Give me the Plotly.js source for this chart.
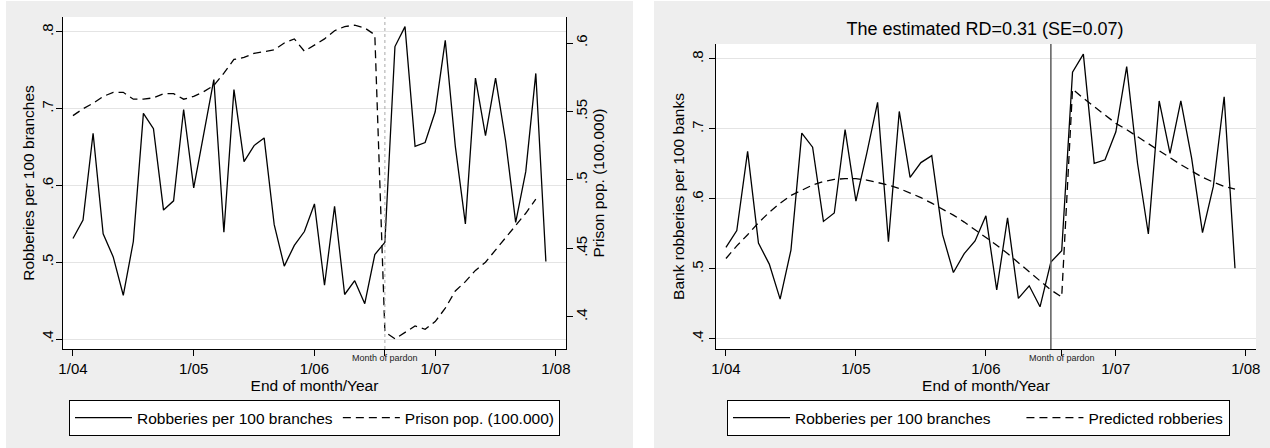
<!DOCTYPE html>
<html>
<head>
<meta charset="utf-8">
<script src="https://cdn.plot.ly/plotly-3.0.1.min.js"></script>
<style>html,body{margin:0;padding:0;background:#fff;}#chart{width:1270px;height:448px;}</style>
</head>
<body>
<div id="chart"></div>
<script>
// Month index: 0 = Jan 2004 ... 47 = Dec 2007
const months = Array.from({length: 48}, (_, i) => i);
const tickVals = [0, 12, 24, 36, 48];
const tickText = ['1/04', '1/05', '1/06', '1/07', '1/08'];
const pardonMonth = 31;      // "Month of pardon" tick
const cutoffMonth = 30;      // RD cutoff line (right panel)

const robberies = [0.531,0.555,0.668,0.537,0.507,0.457,0.527,0.694,0.674,0.568,0.580,0.699,
                   0.597,0.665,0.738,0.539,0.725,0.631,0.652,0.662,0.549,0.495,0.522,0.540,
                   0.576,0.470,0.573,0.458,0.476,0.446,0.510,0.526,0.781,0.807,0.651,0.656,
                   0.696,0.789,0.651,0.550,0.740,0.665,0.740,0.658,0.552,0.618,0.746,0.501];

const prisonMonths = Array.from({length: 47}, (_, i) => i);
const prisonPop = [0.547,0.552,0.556,0.561,0.564,0.564,0.559,0.559,0.560,0.563,0.563,0.559,
                   0.561,0.5645,0.569,0.578,0.588,0.5895,0.5925,0.594,0.595,0.600,0.603,0.594,
                   0.5985,0.603,0.609,0.612,0.613,0.611,0.606,0.389,0.384,0.389,0.3934,0.391,
                   0.3966,0.4064,0.419,0.4258,0.434,0.440,0.449,0.4575,0.467,0.4757,0.486];

const predicted = [0.515,0.533,0.549,0.566,0.581,0.594,0.605,0.613,0.620,0.625,0.628,0.629,
                   0.629,0.627,0.624,0.620,0.615,0.609,0.602,0.594,0.586,0.577,0.567,0.556,
                   0.546,0.534,0.522,0.509,0.497,0.484,0.470,0.460,0.757,0.744,0.732,0.719,
                   0.708,0.699,0.689,0.678,0.668,0.658,0.649,0.640,0.631,0.624,0.618,0.614];

const leftTicks = [0.4, 0.5, 0.6, 0.7, 0.8];
const leftTickText = ['.4', '.5', '.6', '.7', '.8'];
const prisonTicks = [0.4, 0.45, 0.5, 0.55, 0.6];
const prisonTickText = ['.4', '.45', '.5', '.55', '.6'];

const FONT = 'Liberation Sans, Arial, Helvetica, sans-serif';
const DASH = '8px,5px';
const PAD = '\u00a0\u00a0\u00a0\u00a0\u00a0\u00a0';

const traces = [
  {x: months, y: robberies, xaxis: 'x', yaxis: 'y', type: 'scatter', mode: 'lines',
   name: 'Robberies per 100 branches', line: {color: '#000', width: 1.3}, legend: 'legend'},
  {x: prisonMonths, y: prisonPop, xaxis: 'x', yaxis: 'y2', type: 'scatter', mode: 'lines',
   name: 'Prison pop. (100.000)', line: {color: '#000', width: 1.3, dash: DASH}, legend: 'legend'},
  {x: months, y: robberies, xaxis: 'x2', yaxis: 'y3', type: 'scatter', mode: 'lines',
   name: 'Robberies per 100 branches' + PAD, line: {color: '#000', width: 1.3}, legend: 'legend2'},
  {x: months, y: predicted, xaxis: 'x2', yaxis: 'y3', type: 'scatter', mode: 'lines',
   name: 'Predicted robberies', line: {color: '#000', width: 1.3, dash: DASH}, legend: 'legend2'}
];

// plot area (margins) : x 63..1256, y 17..349
const W = 1270, H = 448, ML = 63, MR = 14, MT = 17, MB = 99;
const PW = W - ML - MR, PH = H - MT - MB;
const px = v => (v - ML) / PW;
const py = v => (H - MB - v) / PH;

const xCommon = {
  tickmode: 'array', tickvals: tickVals.concat([pardonMonth]), ticktext: tickText.concat(['']),
  ticks: 'outside', ticklen: 6, tickcolor: '#000', tickwidth: 1,
  showline: true, linecolor: '#000', linewidth: 1, showgrid: false, zeroline: false,
  tickfont: {family: FONT, size: 15, color: '#000'},
  title: {text: 'End of month/Year', font: {family: FONT, size: 15.5, color: '#000'}, standoff: 0}
};
const yCommon = {
  tickmode: 'array', tickvals: leftTicks, ticktext: leftTickText, tickangle: -90,
  ticks: 'outside', ticklen: 6, tickcolor: '#000', tickwidth: 1,
  showline: true, linecolor: '#000', linewidth: 1, zeroline: false,
  showgrid: true, gridcolor: '#e4e4e4', gridwidth: 1,
  tickfont: {family: FONT, size: 15, color: '#000'}
};
const legendCommon = {
  orientation: 'h', xanchor: 'left', yanchor: 'top', y: py(400),
  bgcolor: '#fff', bordercolor: '#000', borderwidth: 1, itemwidth: 57,
  font: {family: FONT, size: 15.5, color: '#000'}
};

const layout = {
  width: W, height: H,
  margin: {l: ML, r: MR, t: MT, b: MB},
  paper_bgcolor: '#ffffff', plot_bgcolor: '#ffffff',
  font: {family: FONT, color: '#000'},
  title: {text: 'The estimated RD=0.31 (SE=0.07)', x: 985 / W, xanchor: 'center', xref: 'container',
          y: 1 - 29 / H, yanchor: 'middle', yref: 'container', font: {family: FONT, size: 18, color: '#000'}},
  xaxis: Object.assign({}, xCommon, {domain: [0, px(566)], range: [-0.99, 49.0], anchor: 'y'}),
  yaxis: Object.assign({}, yCommon, {domain: [0, 1], range: [0.387, 0.8195], anchor: 'x',
          ticklabelstandoff: -3,
          title: {text: 'Robberies per 100 branches', standoff: 0,
                  font: {family: FONT, size: 15.5, color: '#000'}}}),
  yaxis2: {overlaying: 'y', side: 'right', anchor: 'x', range: [0.3766, 0.619],
          tickmode: 'array', tickvals: prisonTicks, ticktext: prisonTickText, tickangle: -90,
          ticks: 'outside', ticklen: 6, tickcolor: '#000', tickwidth: 1, ticklabelstandoff: -4,
          showline: true, linecolor: '#000', linewidth: 1, zeroline: false, showgrid: false,
          tickfont: {family: FONT, size: 15, color: '#000'},
          title: {text: 'Prison pop. (100.000)', standoff: 3,
                  font: {family: FONT, size: 15.5, color: '#000'}}},
  xaxis2: Object.assign({}, xCommon, {domain: [px(716), 1], range: [-0.92, 48.94], anchor: 'y3'}),
  yaxis3: Object.assign({}, yCommon, {domain: [0, py(44)], range: [0.3857, 0.8214], anchor: 'x2',
          title: {text: 'Bank robberies per 100 banks', standoff: 0,
                  font: {family: FONT, size: 15.5, color: '#000'}}}),
  showlegend: true,
  legend: Object.assign({}, legendCommon, {x: px(69)}),
  legend2: Object.assign({}, legendCommon, {x: px(727)}),
  shapes: [
    {type: 'rect', xref: 'paper', yref: 'paper', x0: px(6), x1: px(633), y0: py(448), y1: py(1),
     fillcolor: '#eeeeee', line: {width: 0}, layer: 'below'},
    {type: 'rect', xref: 'paper', yref: 'paper', x0: px(654), x1: px(1270), y0: py(448), y1: py(1),
     fillcolor: '#eeeeee', line: {width: 0}, layer: 'below'},
    {type: 'rect', xref: 'x domain', yref: 'y domain', x0: 0, x1: 1, y0: 0, y1: 1,
     fillcolor: '#ffffff', line: {width: 0}, layer: 'below'},
    {type: 'rect', xref: 'x2 domain', yref: 'y3 domain', x0: 0, x1: 1, y0: 0, y1: 1,
     fillcolor: '#ffffff', line: {width: 0}, layer: 'below'},
    {type: 'line', xref: 'x', yref: 'y domain', x0: pardonMonth, x1: pardonMonth, y0: 0, y1: 1,
     line: {color: '#a8a8a8', width: 1, dash: 'dot'}},
    {type: 'line', xref: 'x2', yref: 'y3 domain', x0: cutoffMonth, x1: cutoffMonth, y0: 0, y1: 1,
     line: {color: '#666666', width: 1.6}}
  ],
  annotations: [
    {text: 'Month of pardon', xref: 'x', yref: 'paper', x: pardonMonth, y: py(358),
     xanchor: 'center', yanchor: 'middle', showarrow: false, font: {family: FONT, size: 9, color: '#222'}},
    {text: 'Month of pardon', xref: 'x2', yref: 'paper', x: pardonMonth, y: py(358),
     xanchor: 'center', yanchor: 'middle', showarrow: false, font: {family: FONT, size: 9, color: '#222'}}
  ]
};

Plotly.newPlot('chart', traces, layout, {displayModeBar: false, staticPlot: true});
</script>
</body>
</html>
